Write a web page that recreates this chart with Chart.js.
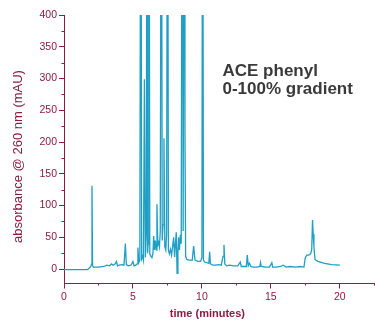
<!DOCTYPE html>
<html>
<head>
<meta charset="utf-8">
<script src="https://cdn.jsdelivr.net/npm/chart.js@4/dist/chart.umd.min.js"></script>
<style>
  html, body { margin: 0; padding: 0; background: #ffffff; }
  #wrap { width: 375px; height: 320px; position: relative; }
</style>
</head>
<body>
<div id="wrap"><canvas id="c" width="375" height="320"></canvas></div>
<script>
// Retention time (minutes)
const timeMin = [0, 1.7, 1.85, 1.95, 2.0, 2.03, 2.07, 2.12, 2.5, 2.9, 3.1, 3.3, 3.45, 3.55, 3.7, 3.8, 3.88, 4.0, 4.2, 4.35, 4.45, 4.52, 4.65, 4.85, 5.0, 5.08, 5.2, 5.3, 5.36, 5.42, 5.5, 5.57, 5.63, 5.7, 5.76, 5.83, 5.9, 5.97, 6.02, 6.06, 6.1, 6.16, 6.22, 6.3, 6.38, 6.45, 6.5, 6.56, 6.62, 6.69, 6.74, 6.8, 6.86, 6.92, 6.98, 7.06, 7.12, 7.18, 7.25, 7.31, 7.38, 7.44, 7.51, 7.57, 7.64, 7.72, 7.8, 7.88, 7.95, 8.02, 8.08, 8.14, 8.2, 8.26, 8.31, 8.37, 8.44, 8.5, 8.58, 8.64, 8.72, 8.77, 8.82, 8.9, 9.1, 9.3, 9.4, 9.5, 9.7, 9.9, 10.0, 10.05, 10.11, 10.2, 10.35, 10.5, 10.56, 10.62, 10.8, 11.0, 11.2, 11.4, 11.53, 11.6, 11.66, 11.8, 12.0, 12.3, 12.6, 12.78, 12.85, 13.0, 13.22, 13.29, 13.36, 13.45, 13.55, 13.7, 14.0, 14.2, 14.25, 14.3, 14.6, 14.9, 15.07, 15.13, 15.4, 15.7, 15.9, 16.1, 16.4, 16.8, 17.1, 17.4, 17.49, 17.6, 17.75, 17.88, 17.96, 18.02, 18.07, 18.12, 18.2, 18.4, 18.9, 19.4, 20.0];
// Absorbance @ 260 nm (mAU); peaks above 400 run off the top of the plot
const absorbance = [-1, -1, 2, 4, 8, 131, 6, 3, 3, 4, 6, 5, 8, 6, 8, 12, 5, 6, 7, 6, 40, 7, 5, 6, 12, 5, 6, 8, 34, 10, 14, 900, 16, 20, 14, 299, 18, 60, 900, 25, 40, 900, 24, 20, 18, 25, 52, 30, 45, 30, 102, 38, 42, 35, 60, 900, 45, 70, 206, 35, 30, 55, 900, 30, 24, 31, 22, 36, 50, 19, 40, 58, -7, 26, 50, 30, 54, 40, 900, 60, 900, 214, 20, 15, 14, 14, 36, 14, 12, 12, 18, 900, 14, 11, 10, 9, 27, 8, 6, 6, 7, 6, 20, 38, 8, 5, 6, 5, 5, 11, 4, 4, 4, 22, 5, 9, 4, 3, 3, 4, 10, 4, 3, 3, 10, 3, 3, 4, 6, 3, 4, 3, 4, 3, 17, 22, 22, 24, 30, 77, 55, 35, 15, 12, 9, 7, 6];
// Axis ticks
const xMajorTicks = [0, 5, 10, 15, 20];
const xMinorTicks = [2.5, 7.5, 12.5, 17.5, 22.5];
const yMajorTicks = [0, 50, 100, 150, 200, 250, 300, 350, 400];
const yMinorTicks = [25, 75, 125, 175, 225, 275, 325, 375];
const xTitle = 'time (minutes)';
const yTitle = 'absorbance @ 260 nm (mAU)';
const noteLines = ['ACE phenyl', '0-100% gradient'];

const AXIS = '#8b1c42';
const LINE = '#1e9fc3';
const FONT = "'Liberation Sans', Arial, sans-serif";

const points = timeMin.map((t, i) => ({ x: t, y: absorbance[i] }));

const extras = {
  id: 'extras',
  afterDraw(chart) {
    const ctx = chart.ctx;
    const xs = chart.scales.x, ys = chart.scales.y;
    const area = chart.chartArea;
    ctx.save();
    ctx.strokeStyle = AXIS;
    ctx.lineWidth = 1;
    ctx.beginPath();
    yMinorTicks.forEach(v => {
      const py = Math.round(ys.getPixelForValue(v)) + 0.5;
      ctx.moveTo(area.left - 2.5, py);
      ctx.lineTo(area.left, py);
    });
    xMinorTicks.forEach(v => {
      const px = Math.round(xs.getPixelForValue(v)) + 0.5;
      ctx.moveTo(px, area.bottom);
      ctx.lineTo(px, area.bottom + 2.5);
    });
    ctx.stroke();

    // axis titles
    ctx.fillStyle = AXIS;
    ctx.font = '13px ' + FONT;
    ctx.textAlign = 'center';
    ctx.textBaseline = 'middle';
    ctx.save();
    ctx.translate(18.5, 156.5);
    ctx.rotate(-Math.PI / 2);
    ctx.fillText(yTitle, 0, 0);
    ctx.restore();

    ctx.font = 'bold 11px ' + FONT;
    ctx.fillText(xTitle, xs.getPixelForValue(10.4), 314);

    // annotation
    ctx.fillStyle = '#3a3a3a';
    ctx.font = 'bold 17px ' + FONT;
    ctx.textAlign = 'left';
    ctx.textBaseline = 'alphabetic';
    ctx.fillText(noteLines[0], 222.5, 76);
    ctx.fillText(noteLines[1], 222.5, 93.5);
    ctx.restore();
  }
};

new Chart(document.getElementById('c'), {
  type: 'line',
  data: {
    datasets: [{
      data: points,
      borderColor: LINE,
      borderWidth: 1.3,
      pointRadius: 0,
      tension: 0,
      fill: false
    }]
  },
  options: {
    responsive: false,
    animation: false,
    events: [],
    layout: { padding: { top: 15, right: 0, left: 0, bottom: 0 } },
    plugins: { legend: { display: false }, tooltip: { enabled: false } },
    scales: {
      x: {
        type: 'linear',
        min: 0,
        max: 22.55,
        afterFit(s) { s.height = 37; },
        afterBuildTicks(s) { s.ticks = xMajorTicks.map(v => ({ value: v })); },
        border: { color: AXIS, width: 1 },
        grid: { drawOnChartArea: false, drawTicks: true, tickLength: 5.5, tickColor: AXIS },
        ticks: {
          color: AXIS,
          font: { family: FONT, size: 10.5 },
          padding: 2,
          maxRotation: 0,
          callback: v => String(v)
        }
      },
      y: {
        type: 'linear',
        min: -22,
        max: 400,
        afterFit(s) { s.width = 64; },
        afterBuildTicks(s) { s.ticks = yMajorTicks.map(v => ({ value: v })); },
        border: { color: AXIS, width: 1 },
        grid: { drawOnChartArea: false, drawTicks: true, tickLength: 5, tickColor: AXIS },
        ticks: {
          color: AXIS,
          font: { family: FONT, size: 10.5 },
          padding: 2,
          callback: v => String(v)
        }
      }
    }
  },
  plugins: [extras]
});
</script>
</body>
</html>
